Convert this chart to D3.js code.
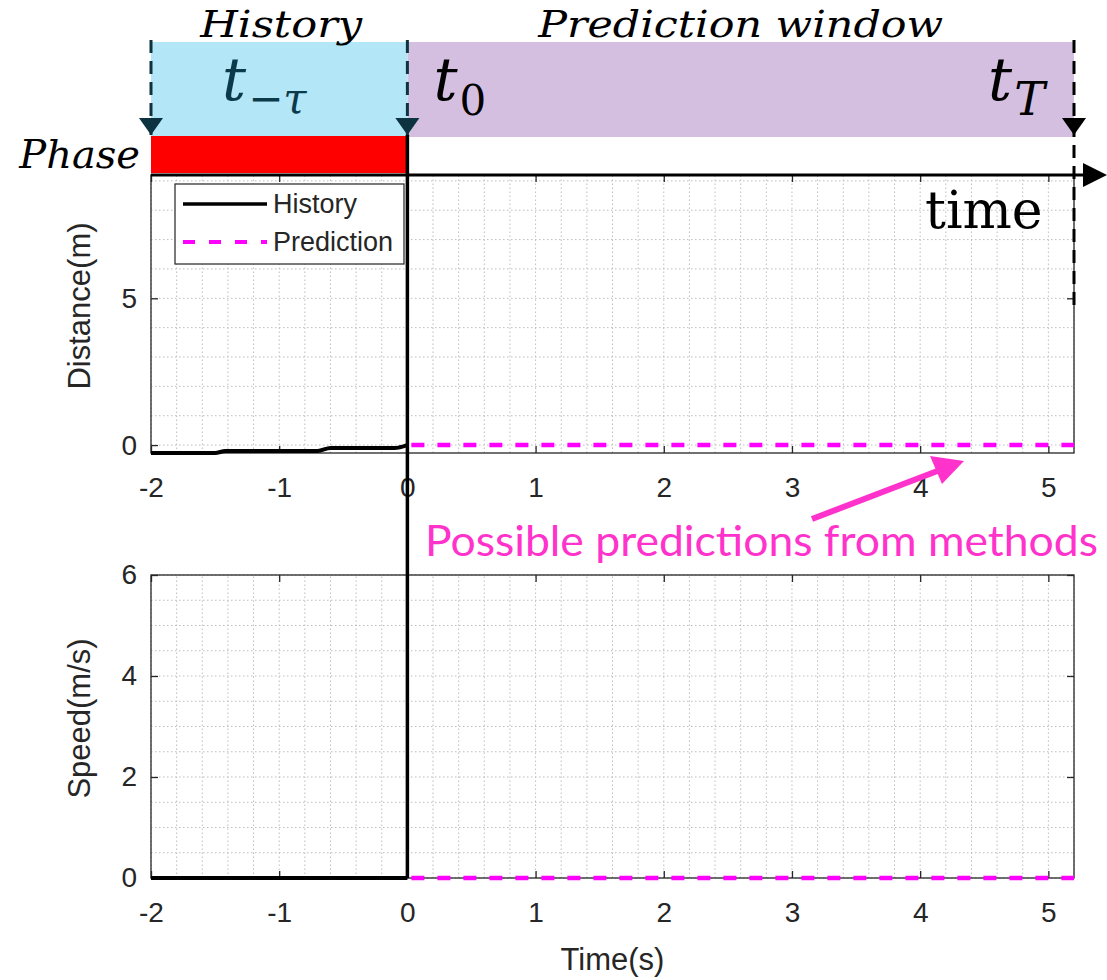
<!DOCTYPE html>
<html>
<head>
<meta charset="utf-8">
<script src="https://cdn.jsdelivr.net/npm/d3@7"></script>
<style>
  body { margin: 0; background: #fff; }
</style>
</head>
<body>
<div id="chart"></div>
<script>
// ---- data ----
const timeTicks = [-2, -1, 0, 1, 2, 3, 4, 5];
const distanceTicks = [0, 5];
const speedTicks = [0, 2, 4, 6];

const historyTime = [-2, -1.5, -1.42, -0.7, -0.6, -0.1, 0];
const historyDistance = [-0.27, -0.27, -0.2, -0.2, -0.1, -0.1, 0];
const historySpeedTime = [-2, 0];
const historySpeed = [0, 0];

const predictionTime = [0, 5.2];
const predictionDistance = [0, 0];
const predictionSpeed = [0, 0];

const phaseNames = ["History", "Prediction window"];
const phaseBounds = [-2, 0, 5.2];
const markerSubs = ["\u2212\u03C4", "0", "T"];
const legendLabels = ["History", "Prediction"];
const annotation = "Possible predictions from methods";

const width = 1107;
const height = 980;
const predColor = "#ff00ff";
const annColor = "#ff33cc";
const axisColor = "#262626";

const svg = d3.select("#chart")
    .append("svg")
    .attr("width", width)
    .attr("height", height)
    .style("font-family", "'Liberation Sans', Arial, sans-serif");

const x = d3.scaleLinear().domain([-2, 5.2]).range([151, 1074]);
const yDist = d3.scaleLinear().domain([-0.27, 9.2]).range([453, 175]);
const ySpeed = d3.scaleLinear().domain([0, 6]).range([878, 575]);

function drawPanel(y, yTicks, yStep, yLabel) {
    const [y0, y1] = y.domain();
    const g = svg.append("g");

    // dotted grid (minor)
    const gx = d3.range(-2, 5.2 + 1e-9, 0.2);
    const gy = d3.range(Math.ceil(y0 / yStep) * yStep, y1 + 1e-9, yStep);
    g.selectAll(".vg").data(gx).join("line")
        .attr("x1", d => x(d)).attr("x2", d => x(d))
        .attr("y1", y.range()[0]).attr("y2", y.range()[1])
        .attr("stroke", "#bdbdbd").attr("stroke-width", 1)
        .attr("stroke-dasharray", "1.5,2.5");
    g.selectAll(".hg").data(gy).join("line")
        .attr("x1", x.range()[0]).attr("x2", x.range()[1])
        .attr("y1", d => y(d)).attr("y2", d => y(d))
        .attr("stroke", "#bdbdbd").attr("stroke-width", 1)
        .attr("stroke-dasharray", "1.5,2.5");

    // box
    g.append("rect")
        .attr("x", x.range()[0]).attr("y", y.range()[1])
        .attr("width", x.range()[1] - x.range()[0])
        .attr("height", y.range()[0] - y.range()[1])
        .attr("fill", "none").attr("stroke", axisColor).attr("stroke-width", 1.3);

    const styleAxis = a => {
        a.select(".domain").remove();
        a.selectAll("line").attr("stroke", axisColor).attr("stroke-width", 1.3);
        a.selectAll("text").attr("fill", axisColor).style("font-size", "28px")
            .style("font-family", "'Liberation Sans', Arial, sans-serif");
    };

    g.append("g").attr("transform", `translate(0,${y.range()[0]})`)
        .call(d3.axisBottom(x).tickValues(timeTicks).tickSize(-7).tickPadding(24).tickFormat(d => String(d)))
        .call(styleAxis);
    g.append("g").attr("transform", `translate(0,${y.range()[1]})`)
        .call(d3.axisTop(x).tickValues(timeTicks).tickSize(-7).tickFormat(""))
        .call(styleAxis);
    g.append("g").attr("transform", `translate(${x.range()[0]},0)`)
        .call(d3.axisLeft(y).tickValues(yTicks).tickSize(-7).tickPadding(14).tickFormat(d => String(d)))
        .call(styleAxis);
    g.append("g").attr("transform", `translate(${x.range()[1]},0)`)
        .call(d3.axisRight(y).tickValues(yTicks).tickSize(-7).tickFormat(""))
        .call(styleAxis);

    svg.append("text")
        .attr("transform", `translate(90,${(y.range()[0] + y.range()[1]) / 2 - 8}) rotate(-90)`)
        .attr("text-anchor", "middle")
        .attr("fill", axisColor)
        .style("font-size", "31px")
        .text(yLabel);
}

drawPanel(yDist, distanceTicks, 1, "Distance(m)");
drawPanel(ySpeed, speedTicks, 0.5, "Speed(m/s)");

svg.append("text")
    .attr("x", (x.range()[0] + x.range()[1]) / 2)
    .attr("y", 970)
    .attr("text-anchor", "middle")
    .attr("fill", axisColor)
    .style("font-size", "31px")
    .text("Time(s)");

// ---- series ----
const line = (xs, ys, y) => d3.line().x((d, i) => x(xs[i])).y(d => y(d))(ys);

svg.append("path").attr("d", line(predictionTime, predictionDistance, yDist))
    .attr("fill", "none").attr("stroke", predColor).attr("stroke-width", 4.5)
    .attr("stroke-dasharray", "13,13").attr("stroke-dashoffset", -4);
svg.append("path").attr("d", line(predictionTime, predictionSpeed, ySpeed))
    .attr("fill", "none").attr("stroke", predColor).attr("stroke-width", 4.5)
    .attr("stroke-dasharray", "13,13").attr("stroke-dashoffset", -4);

svg.append("path").attr("d", d3.line().curve(d3.curveMonotoneX).x((d, i) => x(historyTime[i])).y(d => yDist(d))(historyDistance))
    .attr("fill", "none").attr("stroke", "#000").attr("stroke-width", 4);
svg.append("path").attr("d", line(historySpeedTime, historySpeed, ySpeed))
    .attr("fill", "none").attr("stroke", "#000").attr("stroke-width", 4);

// ---- legend ----
const legend = svg.append("g").attr("transform", "translate(175,184)");
legend.append("rect").attr("width", 229).attr("height", 80)
    .attr("fill", "#fff").attr("stroke", "#333").attr("stroke-width", 1.3);
legendLabels.forEach((label, i) => {
    const ly = 20 + i * 38;
    legend.append("line")
        .attr("x1", 8).attr("x2", 92).attr("y1", ly).attr("y2", ly)
        .attr("stroke", i === 0 ? "#000" : predColor)
        .attr("stroke-width", i === 0 ? 3.5 : 4)
        .attr("stroke-dasharray", i === 0 ? null : "12,14");
    legend.append("text")
        .attr("x", 98).attr("y", ly + 9)
        .attr("fill", "#262626")
        .style("font-size", "27px")
        .text(label);
});

// ---- timeline header ----
const header = svg.append("g");
const markerX = phaseBounds.map(d => x(d));

// phase windows
header.append("rect")
    .attr("x", x(phaseBounds[1])).attr("y", 42)
    .attr("width", x(phaseBounds[2]) - x(phaseBounds[1])).attr("height", 95)
    .attr("fill", "#d4bfe0");
header.append("rect")
    .attr("x", x(phaseBounds[0])).attr("y", 42)
    .attr("width", x(phaseBounds[1]) - x(phaseBounds[0])).attr("height", 94)
    .attr("fill", "#b3e6f7");
header.append("rect")
    .attr("x", x(phaseBounds[0])).attr("y", 136)
    .attr("width", x(phaseBounds[1]) - x(phaseBounds[0])).attr("height", 37)
    .attr("fill", "#ff0000");

// phase titles
phaseNames.forEach((name, i) => {
    header.append("text")
        .attr("x", (x(phaseBounds[i]) + x(phaseBounds[i + 1])) / 2 + (i === 0 ? 2 : 0))
        .attr("y", 37)
        .attr("text-anchor", "middle")
        .style("font-family", "'DejaVu Serif', serif")
        .style("font-style", "italic")
        .style("font-size", "38px")
        .attr("textLength", i === 0 ? 162 : 405)
        .attr("lengthAdjust", "spacingAndGlyphs")
        .text(name);
});

header.append("text")
    .attr("x", 140).attr("y", 168)
    .attr("text-anchor", "end")
    .style("font-family", "'DejaVu Serif', serif")
    .style("font-style", "italic")
    .style("font-size", "40px")
    .text("Phase");

// dashed markers with arrowheads
const markerBottom = [135, 135, 310];
const markerColor = ["#0d3340", "#0d3340", "#000"];
markerX.forEach((mx, i) => {
    header.append("line")
        .attr("x1", mx).attr("x2", mx).attr("y1", 40).attr("y2", markerBottom[i])
        .attr("stroke", markerColor[i]).attr("stroke-width", 3)
        .attr("stroke-dasharray", "13,8");
    header.append("path")
        .attr("d", `M${mx - 12},118 L${mx + 12},118 L${mx},135 Z`)
        .attr("fill", markerColor[i]);
});

// t labels
const labelOffset = [71, 26, -86];
markerX.forEach((mx, i) => {
    const t = header.append("text")
        .attr("x", mx + labelOffset[i]).attr("y", 100)
        .attr("fill", i === 0 ? "#0b3a4a" : "#000")
        .style("font-family", "'DejaVu Serif', serif")
        .style("font-style", "italic")
        .style("font-size", "60px");
    t.append("tspan").text("t");
    t.append("tspan")
        .attr("dy", i === 0 ? 13 : 15)
        .attr("dx", 2)
        .style("font-size", i === 2 ? "46px" : "42px")
        .style("font-style", i === 1 ? "normal" : "italic")
        .text(markerSubs[i]);
});

// time axis arrow
header.append("line")
    .attr("x1", x(phaseBounds[0])).attr("x2", 1090)
    .attr("y1", 175).attr("y2", 175)
    .attr("stroke", "#000").attr("stroke-width", 3);
header.append("path")
    .attr("d", "M1083,163 L1107,175 L1083,187 Z")
    .attr("fill", "#000");
header.append("text")
    .attr("x", 925).attr("y", 228)
    .style("font-family", "'DejaVu Serif', serif")
    .style("font-size", "52px")
    .text("time");

// vertical line at t0 through both panels
svg.append("line")
    .attr("x1", x(0)).attr("x2", x(0))
    .attr("y1", 135).attr("y2", ySpeed(0))
    .attr("stroke", "#000").attr("stroke-width", 3.5);

// ---- annotation ----
svg.append("line")
    .attr("x1", 812).attr("y1", 519).attr("x2", 940).attr("y2", 470)
    .attr("stroke", annColor).attr("stroke-width", 6);
svg.append("path")
    .attr("d", "M964,461 L930,456 L942,484 Z")
    .attr("fill", annColor);
svg.append("text")
    .attr("x", 425).attr("y", 556)
    .attr("fill", annColor)
    .style("font-family", "Lato, 'Open Sans', sans-serif")
    .style("font-size", "43px")
    .attr("textLength", 673)
    .attr("lengthAdjust", "spacingAndGlyphs")
    .text(annotation);
</script>
</body>
</html>
